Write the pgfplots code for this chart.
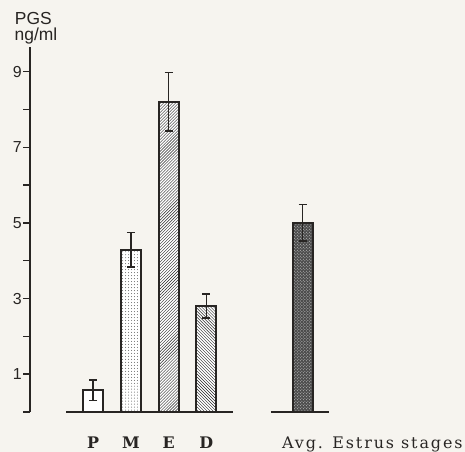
\documentclass[border=0pt]{standalone}
\usepackage{fontspec}
\usepackage{pgfplots}
\pgfplotsset{compat=1.18}
\usetikzlibrary{patterns}
\newfontfamily\lsans{Liberation Sans}
\newfontfamily\dserif{DejaVu Serif}
\newfontfamily\dserifwide[LetterSpace=12]{DejaVu Serif}
\definecolor{bgcol}{RGB}{246,244,239}
\definecolor{ink}{RGB}{40,37,35}
\begin{document}
\begin{tikzpicture}
\fill[bgcol] (0,0) rectangle (465bp,452bp);
\useasboundingbox (0,0) rectangle (465bp,452bp);
\begin{axis}[
  at={(30bp,40bp)}, anchor=south west,
  scale only axis, width=301bp, height=365bp,
  xmin=-0.67, xmax=7.3, ymin=0, ymax=9.65,
  axis x line=none, axis y line=left,
  y axis line style={-, ink, line width=1.6bp},
  ytick={0,1,2,3,4,5,6,7,8,9},
  yticklabels={,1,,3,,5,,7,,9},
  tick align=outside, major tick length=7bp,
  ytick style={ink, line width=1.4bp},
  yticklabel style={font=\lsans\fontsize{16}{18}\selectfont, text=ink, inner sep=1bp},
  /pgf/number format/assume math mode=true,
  clip=false,
]
% baselines
\addplot[ink, line width=1.6bp] coordinates {(0.285,0) (4.70,0)};
\addplot[ink, line width=1.6bp] coordinates {(5.71,0) (7.24,0)};
% bars
\addplot[ybar, bar shift=0pt, bar width=20bp, draw=ink, line width=2bp, fill=white,
  error bars/.cd, y dir=both, y explicit, error bar style={ink, line width=1.5bp},
  error mark options={rotate=90, mark size=4bp, line width=1.5bp, ink}]
  coordinates {(1,0.58) +- (0,0.27)};
\addplot[ybar, bar shift=0pt, bar width=20bp, draw=ink, line width=2bp, fill=white,
  postaction={pattern=dots, pattern color=black!60},
  error bars/.cd, y dir=both, y explicit, error bar style={ink, line width=1.5bp},
  error mark options={rotate=90, mark size=4bp, line width=1.5bp, ink}]
  coordinates {(2,4.29) +- (0,0.46)};
\addplot[ybar, bar shift=0pt, bar width=20bp, draw=ink, line width=2bp, fill=white,
  postaction={pattern=north east lines, pattern color=black!85},
  error bars/.cd, y dir=both, y explicit, error bar style={ink, line width=1.5bp},
  error mark options={rotate=90, mark size=4bp, line width=1.5bp, ink}]
  coordinates {(3,8.2) +- (0,0.77)};
\addplot[ybar, bar shift=0pt, bar width=20bp, draw=ink, line width=2bp, fill=white,
  postaction={pattern=north west lines, pattern color=black!85},
  error bars/.cd, y dir=both, y explicit, error bar style={ink, line width=1.5bp},
  error mark options={rotate=90, mark size=4bp, line width=1.5bp, ink}]
  coordinates {(4,2.8) +- (0,0.32)};
\addplot[ybar, bar shift=0pt, bar width=20bp, draw=ink, line width=2bp, fill=black!70,
  postaction={pattern=crosshatch dots, pattern color=white!80!black},
  error bars/.cd, y dir=both, y explicit, error bar style={ink, line width=1.5bp},
  error mark options={rotate=90, mark size=4bp, line width=1.5bp, ink}]
  coordinates {(6.55,5.0) +- (0,0.48)};
% category labels
\node[anchor=base, text=ink, font=\dserif\bfseries\fontsize{16}{19}\selectfont] at (axis cs:1,0) [yshift=-36bp] {P};
\node[anchor=base, text=ink, font=\dserif\bfseries\fontsize{16}{19}\selectfont] at (axis cs:2,0) [yshift=-36bp] {M};
\node[anchor=base, text=ink, font=\dserif\bfseries\fontsize{16}{19}\selectfont] at (axis cs:3,0) [yshift=-36bp] {E};
\node[anchor=base, text=ink, font=\dserif\bfseries\fontsize{16}{19}\selectfont] at (axis cs:4,0) [yshift=-36bp] {D};
\node[anchor=base west, inner sep=0pt, text=ink, font=\dserifwide\fontsize{16}{19}\selectfont] at (axis cs:6.0,0) [yshift=-36bp] {Avg. Estrus stages};
% y label
\node[anchor=base, inner sep=0pt, text=ink, font=\lsans\fontsize{17.5}{20}\selectfont] at (axis cs:-0.58,9.65) [yshift=22bp] {PGS};
\node[anchor=base, inner sep=0pt, text=ink, font=\lsans\fontsize{17.5}{20}\selectfont] at (axis cs:-0.51,9.65) [yshift=6bp] {ng/ml};
\end{axis}
\end{tikzpicture}
\end{document}
